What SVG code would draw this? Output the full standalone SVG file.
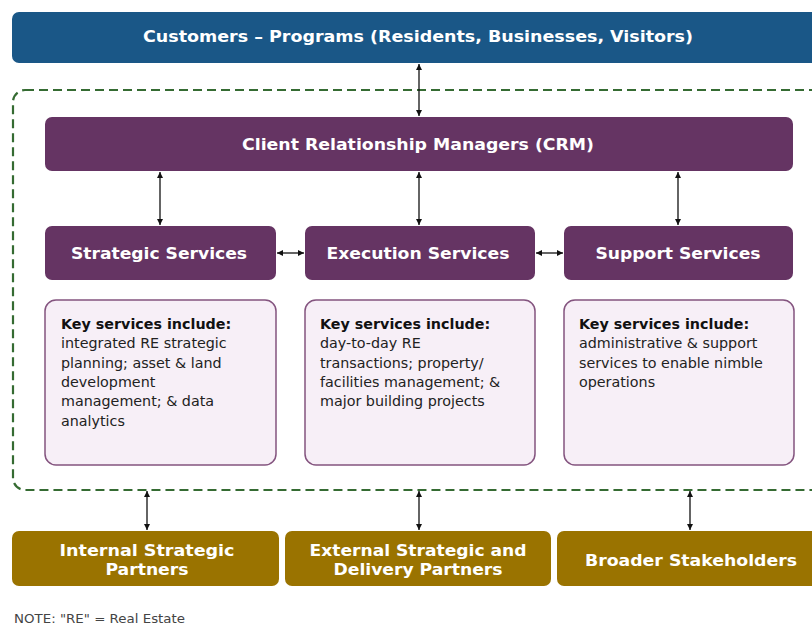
<svg xmlns="http://www.w3.org/2000/svg" width="812" height="625" viewBox="0 0 812 625">
<defs>
<marker id="ah" viewBox="0 0 10 10" refX="10" refY="5" markerWidth="6" markerHeight="6" orient="auto-start-reverse" markerUnits="userSpaceOnUse">
<path d="M0,0 L10,5 L0,10 z" fill="#111"/>
</marker>
<style>
.hdr{font-family:"DejaVu Sans Condensed","DejaVu Sans",Tahoma,sans-serif;font-weight:bold;font-size:16px;fill:#fff;text-anchor:middle}
.body{font-family:"DejaVu Sans",Verdana,sans-serif;font-size:14.3px;fill:#222}
.bold{font-weight:bold;fill:#111}
.conn{stroke:#111;stroke-width:1.3;fill:none;marker-start:url(#ah);marker-end:url(#ah)}
.purple{fill:#653463}
.desc{fill:#f7eff7;stroke:#84547f;stroke-width:1.5}
.gold{fill:#9a7300}
</style>
</defs>
<rect width="812" height="625" fill="#fff"/>
<g id="customers">
<rect x="12" y="12" width="820" height="51" rx="7" fill="#1a5787"/>
<text class="hdr" x="418" y="42" textLength="550" lengthAdjust="spacingAndGlyphs">Customers – Programs (Residents, Businesses, Visitors)</text>
</g>
<g id="container">
<rect x="13" y="90" width="830" height="400" rx="12" fill="none" stroke="#356b32" stroke-width="2.2" stroke-dasharray="9,5"/>
</g>
<g id="crm">
<rect class="purple" x="45" y="117" width="748" height="54" rx="7"/>
<text class="hdr" x="418" y="150" textLength="352" lengthAdjust="spacingAndGlyphs">Client Relationship Managers (CRM)</text>
</g>
<g id="strategic">
<rect class="purple" x="45" y="226" width="231" height="54" rx="7"/>
<text class="hdr" x="159" y="259" textLength="176" lengthAdjust="spacingAndGlyphs">Strategic Services</text>
</g>
<g id="execution">
<rect class="purple" x="305" y="226" width="230" height="54" rx="7"/>
<text class="hdr" x="418" y="259" textLength="183" lengthAdjust="spacingAndGlyphs">Execution Services</text>
</g>
<g id="support">
<rect class="purple" x="564" y="226" width="229" height="54" rx="7"/>
<text class="hdr" x="678" y="259" textLength="165" lengthAdjust="spacingAndGlyphs">Support Services</text>
</g>
<g id="strategic-desc">
<rect class="desc" x="45" y="300" width="231" height="165" rx="11"/>
<text class="body" x="61" y="329"><tspan class="bold">Key services include:</tspan><tspan x="61" dy="19.3">integrated RE strategic</tspan><tspan x="61" dy="19.3">planning; asset &amp; land</tspan><tspan x="61" dy="19.3">development</tspan><tspan x="61" dy="19.3">management; &amp; data</tspan><tspan x="61" dy="19.3">analytics</tspan></text>
</g>
<g id="execution-desc">
<rect class="desc" x="305" y="300" width="230" height="165" rx="11"/>
<text class="body" x="320" y="329"><tspan class="bold">Key services include:</tspan><tspan x="320" dy="19.3">day-to-day RE</tspan><tspan x="320" dy="19.3">transactions; property/</tspan><tspan x="320" dy="19.3">facilities management; &amp;</tspan><tspan x="320" dy="19.3">major building projects</tspan></text>
</g>
<g id="support-desc">
<rect class="desc" x="564" y="300" width="230" height="165" rx="11"/>
<text class="body" x="579" y="329"><tspan class="bold">Key services include:</tspan><tspan x="579" dy="19.3">administrative &amp; support</tspan><tspan x="579" dy="19.3">services to enable nimble</tspan><tspan x="579" dy="19.3">operations</tspan></text>
</g>
<g id="internal">
<rect class="gold" x="12" y="531" width="267" height="55" rx="7"/>
<text class="hdr" x="147" y="556" textLength="175" lengthAdjust="spacingAndGlyphs">Internal Strategic</text>
<text class="hdr" x="147" y="575" textLength="83" lengthAdjust="spacingAndGlyphs">Partners</text>
</g>
<g id="external">
<rect class="gold" x="285" y="531" width="266" height="55" rx="7"/>
<text class="hdr" x="418" y="556" textLength="217" lengthAdjust="spacingAndGlyphs">External Strategic and</text>
<text class="hdr" x="418" y="575" textLength="169" lengthAdjust="spacingAndGlyphs">Delivery Partners</text>
</g>
<g id="broader">
<rect class="gold" x="557" y="531" width="270" height="55" rx="7"/>
<text class="hdr" x="691" y="566" textLength="212" lengthAdjust="spacingAndGlyphs">Broader Stakeholders</text>
</g>
<g id="connectors">
<line class="conn" x1="419" y1="64" x2="419" y2="116"/>
<line class="conn" x1="160" y1="172" x2="160" y2="225"/>
<line class="conn" x1="419" y1="172" x2="419" y2="225"/>
<line class="conn" x1="678" y1="172" x2="678" y2="225"/>
<line class="conn" x1="277" y1="253" x2="304" y2="253"/>
<line class="conn" x1="536" y1="253" x2="563" y2="253"/>
<line class="conn" x1="147" y1="491" x2="147" y2="530"/>
<line class="conn" x1="419" y1="491" x2="419" y2="530"/>
<line class="conn" x1="690" y1="491" x2="690" y2="530"/>
</g>
<text x="14" y="623" font-family="DejaVu Sans, sans-serif" font-size="12" fill="#444" textLength="171" lengthAdjust="spacingAndGlyphs">NOTE: "RE" = Real Estate</text>
</svg>
